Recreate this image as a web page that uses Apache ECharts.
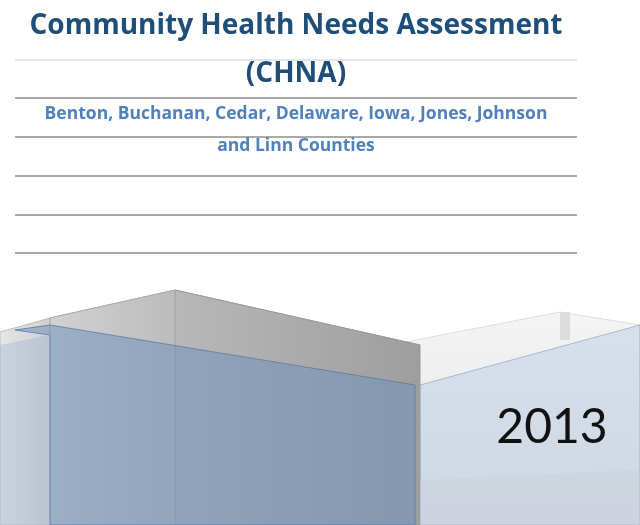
<!DOCTYPE html>
<html><head><meta charset="utf-8">
<script src="https://cdn.jsdelivr.net/npm/echarts@6/dist/echarts.min.js"></script>
<style>html,body{margin:0;padding:0;background:#fff}#c{width:640px;height:525px}</style>
</head><body><div id="c"></div>
<script>
const titleLines = ["Community Health Needs Assessment", "(CHNA)"];
const subtitleLines = ["Benton, Buchanan, Cedar, Delaware, Iowa, Jones, Johnson", "and Linn Counties"];
const yearLabel = "2013";
const ruleYs = [60, 98, 137, 176, 215, 253];

const chart = echarts.init(document.getElementById('c'));
const g = [];
ruleYs.forEach((y, i) => g.push({type:'line', shape:{x1:15,y1:y,x2:577,y2:y}, style:{stroke: i===0?'#bbb':'#555', lineWidth: i===0?0.8:1}}));
g.push({type:'text', x:296, y:26, style:{text:titleLines[0], font:'bold 28px "Open Sans", Lato, sans-serif', fill:'#1F4E79', align:'center', verticalAlign:'middle'}});
g.push({type:'text', x:296, y:74, style:{text:titleLines[1], font:'bold 28px "Open Sans", Lato, sans-serif', fill:'#1F4E79', align:'center', verticalAlign:'middle'}});
g.push({type:'text', x:296, y:114, style:{text:subtitleLines[0], font:'bold 17.5px "Open Sans", Lato, sans-serif', fill:'#4F81BD', align:'center', verticalAlign:'middle'}});
g.push({type:'text', x:296, y:146, style:{text:subtitleLines[1], font:'bold 17.5px "Open Sans", Lato, sans-serif', fill:'#4F81BD', align:'center', verticalAlign:'middle'}});
const poly = (pts, fill, stroke) => g.push({type:'polygon', shape:{points:pts}, style:{fill, stroke: stroke||'none', lineWidth:1}});
const lg = (x,y,x2,y2,c1,c2)=>({type:'linear',x,y,x2,y2,colorStops:[{offset:0,color:c1},{offset:1,color:c2}]});
poly([[390,345],[560,312],[640,325],[640,525],[390,525]], lg(0,0,0,1,'#f4f4f4','#e4e4e4'), '#ddd');
poly([[560,312],[570,312],[570,340],[560,340]], '#dcdcdc');
poly([[0,332],[50,318],[50,525],[0,525]], lg(0,0,1,0,'#e6e6e6','#cfcfcf'), '#bbb');
poly([[50,318],[175,290],[420,345],[300,375]], lg(0,0,0,1,'#e0e0e0','#c8c8c8'), '#aaa');
poly([[175,290],[420,345],[420,525],[175,525]], lg(0,0,1,0,'#b8b8b8','#9e9e9e'), '#999');
poly([[50,318],[175,290],[175,525],[50,525]], lg(0,0,1,0,'#d2d2d2','#bcbcbc'), '#aaa');
poly([[15,330],[50,325],[415,385],[415,525],[50,525],[50,335]], 'rgba(110,145,190,0.55)', 'rgba(90,120,170,0.8)');
poly([[0,345],[50,335],[50,525],[0,525]], 'rgba(150,175,210,0.35)');
poly([[420,385],[640,325],[640,525],[420,525]], 'rgba(180,200,225,0.45)', 'rgba(140,165,200,0.7)');
poly([[420,480],[640,470],[640,525],[420,525]], 'rgba(200,205,215,0.35)');
g.push({type:'text', x:552, y:428, style:{text:yearLabel, font:'48px Lato, "Open Sans", sans-serif', fill:'#111', align:'center', verticalAlign:'middle'}});
chart.setOption({animation:false, graphic:{elements:g}});
</script></body></html>
